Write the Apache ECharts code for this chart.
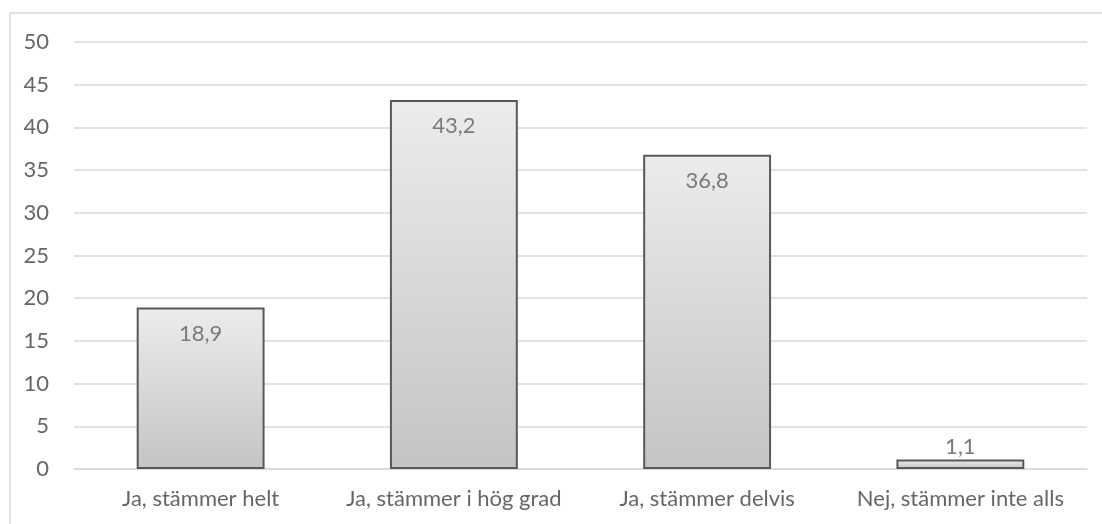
<!DOCTYPE html>
<html>
<head>
<meta charset="utf-8">
<script src="https://cdn.jsdelivr.net/npm/echarts@6/dist/echarts.min.js"></script>
<style>
  html, body { margin: 0; padding: 0; background: #fff; }
  #chart { width: 1102px; height: 524px; }
</style>
</head>
<body>
<div id="chart"></div>
<script>
// Survey answers and their shares (percent)
const categories = ['Ja, stämmer helt', 'Ja, stämmer i hög grad', 'Ja, stämmer delvis', 'Nej, stämmer inte alls'];
const values = [18.9, 43.2, 36.8, 1.1];
const yTicks = { min: 0, max: 50, interval: 5 };

const fontFamily = 'Lato, "Open Sans", sans-serif';
const fontSize = 22;
const fmt = v => String(v).replace('.', ',');

const chart = echarts.init(document.getElementById('chart'), null, { renderer: 'canvas' });

// Short bars carry their value above the bar, others just inside the top edge
const barData = values.map(v => {
  const small = v < 5;
  return {
    value: v,
    label: small
      ? { position: 'top', distance: 2 }
      : { position: 'insideTop', distance: 15 }
  };
});

chart.setOption({
  animation: false,
  backgroundColor: '#ffffff',
  graphic: [{
    type: 'rect',
    shape: { x: 10, y: 13, width: 1200, height: 600 },
    style: { fill: 'none', stroke: '#d9d9d9', lineWidth: 1.5 },
    silent: true,
    z: -10
  }],
  grid: { left: 74, right: 15, top: 42, bottom: 55, containLabel: false },
  xAxis: {
    type: 'category',
    data: categories,
    axisLine: { show: true, lineStyle: { color: '#d9d9d9', width: 1.5 } },
    axisTick: { show: false },
    axisLabel: { color: '#666666', fontSize, fontFamily, margin: 19, interval: 0, hideOverlap: false }
  },
  yAxis: {
    type: 'value',
    min: yTicks.min,
    max: yTicks.max,
    interval: yTicks.interval,
    axisLine: { show: false },
    axisTick: { show: false },
    axisLabel: { color: '#666666', fontSize, fontFamily, margin: 25 },
    splitLine: { lineStyle: { color: '#d9d9d9', width: 1.5 } }
  },
  series: [{
    type: 'bar',
    data: barData,
    barWidth: '50.5%',
    itemStyle: {
      color: new echarts.graphic.LinearGradient(0, 0, 0, 1, [
        { offset: 0, color: '#ececec' },
        { offset: 1, color: '#c4c4c4' }
      ]),
      borderColor: '#595959',
      borderWidth: 2
    },
    label: {
      show: true,
      color: '#7a7a7a',
      fontSize,
      fontFamily,
      formatter: p => fmt(p.value)
    }
  }]
});
</script>
</body>
</html>
